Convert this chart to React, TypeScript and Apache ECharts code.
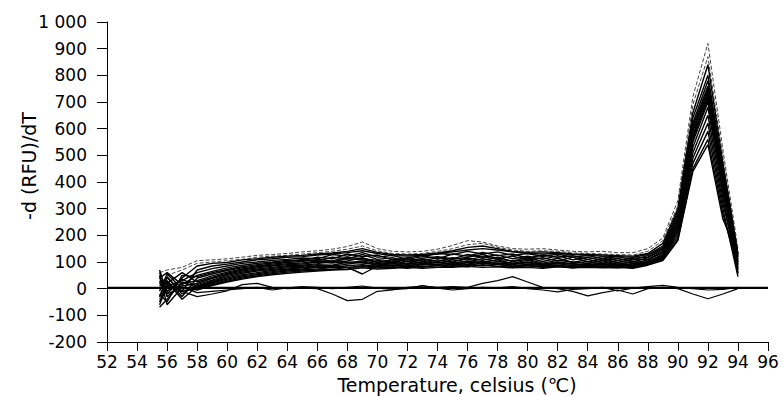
import React, { useEffect, useRef } from "react";
import * as echarts from "echarts";

// Temperatures (°C) at which each melt curve is sampled
const TEMPS = [55.5, 56, 57, 58, 59, 60, 61, 62, 63, 64,
  65, 66, 67, 68, 69, 70, 71, 72, 73, 74,
  75, 76, 77, 78, 79, 80, 81, 82, 83, 84,
  85, 86, 87, 88, 89, 90, 91, 92, 93, 94];

// Sample melt curves (-d(RFU)/dT)
const curveA = [60, 70, 80, 105, 108, 112, 118, 125, 128, 132,
  138, 142, 148, 158, 175, 150, 140, 138, 140, 148,
  162, 180, 175, 160, 150, 148, 150, 145, 140, 138,
  140, 135, 135, 150, 190, 330, 720, 920, 520, 150];
const curveB = [-40, 50, 70, 95, 100, 105, 110, 118, 122, 125,
  130, 135, 140, 148, 160, 142, 132, 130, 132, 140,
  150, 165, 170, 155, 145, 140, 142, 140, 134, 132,
  130, 128, 126, 140, 180, 310, 690, 870, 490, 140];
const curveC = [70, -20, 40, 85, 95, 98, 108, 112, 118, 122,
  125, 130, 134, 140, 150, 136, 128, 126, 128, 134,
  142, 155, 160, 150, 140, 136, 138, 135, 130, 128,
  126, 124, 122, 132, 170, 300, 660, 840, 470, 130];
const curveD = [20, 40, -10, 70, 85, 92, 100, 108, 112, 118,
  120, 126, 130, 135, 142, 132, 124, 122, 125, 130,
  138, 145, 150, 145, 138, 132, 130, 132, 128, 125,
  122, 120, 118, 128, 160, 290, 640, 800, 450, 120];
const curveE = [-60, 10, 30, 60, 75, 85, 95, 100, 106, 110,
  115, 112, 128, 122, 135, 118, 125, 110, 120, 132,
  128, 140, 130, 138, 125, 132, 120, 130, 118, 124,
  112, 120, 108, 124, 155, 280, 620, 780, 440, 100];
const curveF = [40, 60, 15, 50, 65, 78, 88, 95, 100, 106,
  105, 118, 112, 130, 120, 126, 108, 116, 124, 112,
  130, 122, 136, 124, 130, 115, 126, 118, 124, 110,
  120, 106, 114, 118, 150, 270, 610, 760, 430, 110];
const curveG = [-20, -50, 50, 45, 60, 72, 82, 90, 96, 102,
  110, 104, 118, 112, 128, 110, 116, 102, 114, 120,
  112, 128, 118, 126, 112, 122, 110, 124, 108, 118,
  104, 114, 100, 116, 145, 265, 600, 750, 420, 90];
const curveH = [10, 30, -30, 40, 55, 68, 78, 86, 92, 98,
  102, 110, 104, 118, 112, 106, 100, 112, 104, 116,
  110, 118, 128, 112, 122, 108, 116, 104, 118, 100,
  112, 98, 108, 110, 140, 255, 590, 740, 410, 130];
const curveI = [50, -30, 20, 30, 48, 62, 74, 82, 88, 94,
  96, 104, 100, 112, 108, 100, 108, 94, 110, 102,
  116, 108, 120, 110, 104, 116, 102, 114, 98, 110,
  96, 106, 94, 108, 135, 250, 580, 730, 400, 80];
const curveJ = [-50, 20, 60, 25, 42, 58, 70, 78, 85, 90,
  92, 100, 96, 104, 116, 98, 92, 104, 96, 108,
  100, 114, 106, 118, 102, 110, 96, 106, 100, 94,
  104, 92, 100, 100, 130, 240, 570, 720, 390, 70];
const curveK = [30, 0, 10, 20, 38, 54, 66, 74, 80, 86,
  88, 94, 102, 96, 104, 94, 100, 90, 102, 96,
  108, 100, 112, 102, 96, 106, 92, 100, 94, 102,
  90, 98, 88, 104, 125, 235, 560, 710, 380, 120];
const curveM = [-30, 45, -20, 15, 32, 50, 62, 70, 76, 82,
  84, 90, 88, 100, 96, 92, 86, 96, 90, 100,
  94, 104, 98, 108, 94, 100, 90, 98, 92, 88,
  96, 86, 94, 96, 122, 230, 550, 700, 370, 60];
const curveN = [60, -10, 35, 10, 28, 45, 58, 66, 72, 78,
  80, 86, 84, 92, 100, 88, 94, 84, 96, 90,
  98, 92, 102, 94, 90, 98, 88, 94, 86, 94,
  88, 92, 84, 98, 120, 220, 530, 680, 360, 100];
const curveO = [0, 25, -40, 8, 25, 40, 52, 60, 68, 74,
  78, 82, 86, 80, 55, 85, 86, 88, 90, 92,
  95, 97, 98, 96, 94, 92, 92, 94, 92, 90,
  90, 88, 88, 96, 118, 215, 510, 650, 340, 55];
const curveP = [-70, -40, 25, 5, 22, 36, 48, 56, 64, 70,
  74, 80, 78, 86, 90, 84, 88, 80, 90, 86,
  92, 88, 96, 90, 84, 92, 86, 88, 82, 90,
  84, 88, 80, 94, 115, 205, 490, 620, 320, 90];
const curveQ = [25, 15, -10, 3, 18, 32, 44, 52, 60, 66,
  70, 74, 80, 78, 86, 82, 78, 84, 80, 88,
  84, 90, 86, 92, 84, 88, 82, 86, 80, 86,
  82, 84, 78, 92, 112, 195, 470, 590, 300, 45];
const curveR = [-10, 55, 0, 0, 15, 28, 40, 48, 56, 62,
  66, 70, 72, 80, 82, 78, 82, 76, 84, 80,
  86, 82, 90, 84, 80, 86, 80, 84, 78, 84,
  80, 78, 82, 90, 108, 185, 450, 560, 280, 75];
const curveS = [45, -60, 5, -5, 12, 25, 36, 45, 52, 58,
  62, 66, 70, 72, 78, 74, 76, 80, 76, 80,
  80, 84, 80, 82, 78, 80, 76, 82, 78, 80,
  78, 80, 76, 88, 105, 180, 440, 540, 260, 130];
// Negative controls (near zero)
const control01 = [-30, 10, -10, -30, -20, -8, 15, 20, 5, 0,
  2, 0, -20, -45, -40, -10, -5, 5, 10, 5,
  8, 5, 20, 30, 45, 25, 5, 0, -10, -27,
  -15, -5, -20, 0, 5, 0, -20, -38, -20, 0];
const control02 = [20, -20, 5, -15, -10, -5, 0, 5, -5, 3,
  8, 5, 0, 5, 10, 2, -3, 0, 12, 2,
  -5, 0, 5, 3, 8, 0, -5, -12, -3, 0,
  5, -8, 2, 8, 12, 5, 0, -5, -3, 5];
// Flat baseline trace across the full range
const BASELINE_X = [52, 96];
const BASELINE_Y = [3, 3];

const SAMPLES = [curveA, curveB, curveC, curveD, curveE, curveF, curveG, curveH, curveI,
  curveJ, curveK, curveM, curveN, curveO, curveP, curveQ, curveR, curveS];
const CONTROLS = [control01, control02];

const Y_TICKS = [-200, -100, 0, 100, 200, 300, 400, 500, 600, 700, 800, 900, 1000];
const Y_LABELS = ["-200", "-100", "0", "100", "200", "300", "400", "500", "600", "700", "800", "900", "1 000"];

const FONT = "'DejaVu Sans', 'Noto Sans CJK SC', sans-serif";

export default function App() {
  const ref = useRef<HTMLDivElement>(null);
  useEffect(() => {
    if (!ref.current) return;
    const chart = echarts.init(ref.current, null, { renderer: "svg" });
    const toPairs = (ys: number[]) => TEMPS.map((t, i) => [t, ys[i]]);
    const series: any[] = [];
    series.push({
      type: "line",
      data: BASELINE_X.map((x, i) => [x, BASELINE_Y[i]]),
      showSymbol: false,
      lineStyle: { color: "#000", width: 2.2 },
      silent: true,
    });
    CONTROLS.forEach((c) =>
      series.push({
        type: "line",
        data: toPairs(c),
        showSymbol: false,
        lineStyle: { color: "#000", width: 1.2 },
        silent: true,
      })
    );
    SAMPLES.forEach((c, i) =>
      series.push({
        type: "line",
        data: toPairs(c),
        showSymbol: false,
        lineStyle: { color: i < 2 ? "#444" : "#000", width: i < 2 ? 1 : 1.4, type: i < 2 ? "dashed" : "solid" },
        silent: true,
      })
    );
    chart.setOption({
      animation: false,
      backgroundColor: "#fff",
      grid: { left: 107, right: 16, top: 22, bottom: 54 },
      xAxis: {
        type: "value",
        min: 52,
        max: 96,
        interval: 2,
        axisLine: { show: true, onZero: false, lineStyle: { color: "#000", width: 1 } },
        axisTick: { show: true, length: 9, lineStyle: { color: "#000" } },
        axisLabel: { color: "#000", fontSize: 17, fontFamily: FONT, margin: 11 },
        splitLine: { show: false },
      },
      yAxis: {
        type: "value",
        min: -200,
        max: 1000,
        interval: 100,
        axisLine: { show: true, lineStyle: { color: "#000", width: 1 } },
        axisTick: { show: true, length: 10, lineStyle: { color: "#000" } },
        axisLabel: {
          color: "#000",
          fontSize: 17,
          fontFamily: FONT,
          margin: 20,
          formatter: (v: number) => {
            const i = Y_TICKS.indexOf(v);
            return i >= 0 ? Y_LABELS[i] : String(v);
          },
        },
        splitLine: { show: false },
      },
      graphic: [
        {
          type: "text",
          x: 457,
          y: 385,
          style: {
            text: "Temperature, celsius (℃)",
            fontSize: 19,
            fontFamily: FONT,
            fill: "#000",
            textAlign: "center",
            textVerticalAlign: "middle",
          },
        },
        {
          type: "text",
          x: 29,
          y: 166,
          rotation: Math.PI / 2,
          style: {
            text: "-d (RFU)/dT",
            fontSize: 19,
            fontFamily: FONT,
            fill: "#000",
            textAlign: "center",
            textVerticalAlign: "middle",
          },
        },
      ],
      series,
    });
    return () => chart.dispose();
  }, []);
  return <div ref={ref} style={{ width: 784, height: 396, position: "absolute", left: 0, top: 0 }} />;
}
